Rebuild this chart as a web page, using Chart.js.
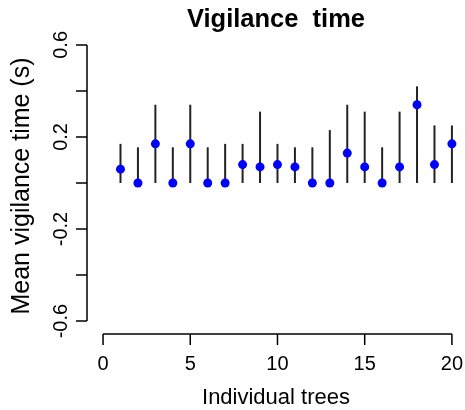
<!DOCTYPE html>
<html>
<head>
<meta charset="utf-8">
<script src="https://cdn.jsdelivr.net/npm/chart.js@4"></script>
<style>
  html, body { margin: 0; padding: 0; background: #fff; }
  #wrap { width: 465px; height: 410px; }
</style>
</head>
<body>
<div id="wrap"><canvas id="chart" width="465" height="410"></canvas></div>
<script>
  // data
  const trees = [1, 2, 3, 4, 5, 6, 7, 8, 9, 10, 11, 12, 13, 14, 15, 16, 17, 18, 19, 20];
  const meanTime = [0.06, 0, 0.17, 0, 0.17, 0, 0, 0.08, 0.07, 0.08, 0.07, 0, 0, 0.13, 0.07, 0, 0.07, 0.34, 0.08, 0.17];
  const upperTime = [0.17, 0.155, 0.34, 0.155, 0.34, 0.155, 0.17, 0.17, 0.31, 0.17, 0.155, 0.155, 0.23, 0.34, 0.31, 0.155, 0.31, 0.42, 0.25, 0.25];
  const lowerTime = [0, 0, 0, 0, 0, 0, 0, 0, 0, 0, 0, 0, 0, 0, 0, 0, 0, 0, 0, 0];
  const xTicks = [0, 5, 10, 15, 20];
  const yTicks = [-0.6, -0.4, -0.2, 0, 0.2, 0.4, 0.6];
  const yTickLabels = ['-0.6', '', '-0.2', '', '0.2', '', '0.6'];

  const FONT = '"Liberation Sans", Arial, sans-serif';

  // error bars drawn under the points
  const errorBars = {
    id: 'errorBars',
    beforeDatasetsDraw(chart) {
      const ctx = chart.ctx;
      const x = chart.scales.x, y = chart.scales.y;
      ctx.save();
      ctx.strokeStyle = '#222';
      ctx.lineWidth = 2;
      trees.forEach((t, i) => {
        const px = x.getPixelForValue(t);
        ctx.beginPath();
        ctx.moveTo(px, y.getPixelForValue(lowerTime[i]));
        ctx.lineTo(px, y.getPixelForValue(upperTime[i]));
        ctx.stroke();
      });
      ctx.restore();
    }
  };

  // R style detached axes and labels
  const rAxes = {
    id: 'rAxes',
    afterDraw(chart) {
      const ctx = chart.ctx;
      const x = chart.scales.x, y = chart.scales.y;
      const area = chart.chartArea;
      ctx.save();
      ctx.strokeStyle = '#000';
      ctx.fillStyle = '#000';
      ctx.lineWidth = 1.5;

      // x axis
      const xb = area.bottom;
      ctx.beginPath();
      ctx.moveTo(x.getPixelForValue(xTicks[0]), xb);
      ctx.lineTo(x.getPixelForValue(xTicks[xTicks.length - 1]), xb);
      xTicks.forEach(t => {
        const px = x.getPixelForValue(t);
        ctx.moveTo(px, xb);
        ctx.lineTo(px, xb + 11);
      });
      ctx.stroke();
      ctx.font = '20px ' + FONT;
      ctx.textAlign = 'center';
      ctx.textBaseline = 'middle';
      xTicks.forEach(t => ctx.fillText(String(t), x.getPixelForValue(t), xb + 30));

      // y axis
      const yl = area.left;
      ctx.beginPath();
      ctx.moveTo(yl, y.getPixelForValue(yTicks[0]));
      ctx.lineTo(yl, y.getPixelForValue(yTicks[yTicks.length - 1]));
      yTicks.forEach(t => {
        const py = y.getPixelForValue(t);
        ctx.moveTo(yl, py);
        ctx.lineTo(yl - 11, py);
      });
      ctx.stroke();
      yTicks.forEach((t, i) => {
        if (!yTickLabels[i]) return;
        ctx.save();
        ctx.translate(yl - 26, y.getPixelForValue(t));
        ctx.rotate(-Math.PI / 2);
        ctx.fillText(yTickLabels[i], 0, 0);
        ctx.restore();
      });

      // axis titles
      const midX = (area.left + area.right) / 2;
      ctx.font = '22px ' + FONT;
      ctx.fillText('Individual trees', midX, 398);
      ctx.save();
      ctx.font = '25px ' + FONT;
      ctx.translate(22, 186);
      ctx.rotate(-Math.PI / 2);
      ctx.fillText('Mean vigilance time (s)', 0, 0);
      ctx.restore();

      // main title
      ctx.font = 'bold 25.5px ' + FONT;
      ctx.fillText('Vigilance  time', 276, 20);
      ctx.restore();
    }
  };

  const ctx = document.getElementById('chart').getContext('2d');
  const chart = new Chart(ctx, {
    type: 'scatter',
    data: {
      datasets: [{
        label: 'Mean vigilance time',
        data: trees.map((t, i) => ({ x: t, y: meanTime[i] })),
        backgroundColor: '#0000ff',
        borderColor: '#0000ff',
        pointRadius: 4.5,
        pointHoverRadius: 4.5,
        borderWidth: 0
      }]
    },
    options: {
      responsive: false,
      animation: false,
      layout: {
        autoPadding: false,
        padding: { left: 87, right: 0, top: 32, bottom: 76 }
      },
      plugins: {
        legend: { display: false },
        tooltip: { enabled: false },
        title: { display: false }
      },
      scales: {
        x: { type: 'linear', display: false, min: -0.92, max: 20.75 },
        y: { type: 'linear', display: false, min: -0.656, max: 0.656 }
      }
    },
    plugins: [errorBars, rAxes]
  });
</script>
</body>
</html>
